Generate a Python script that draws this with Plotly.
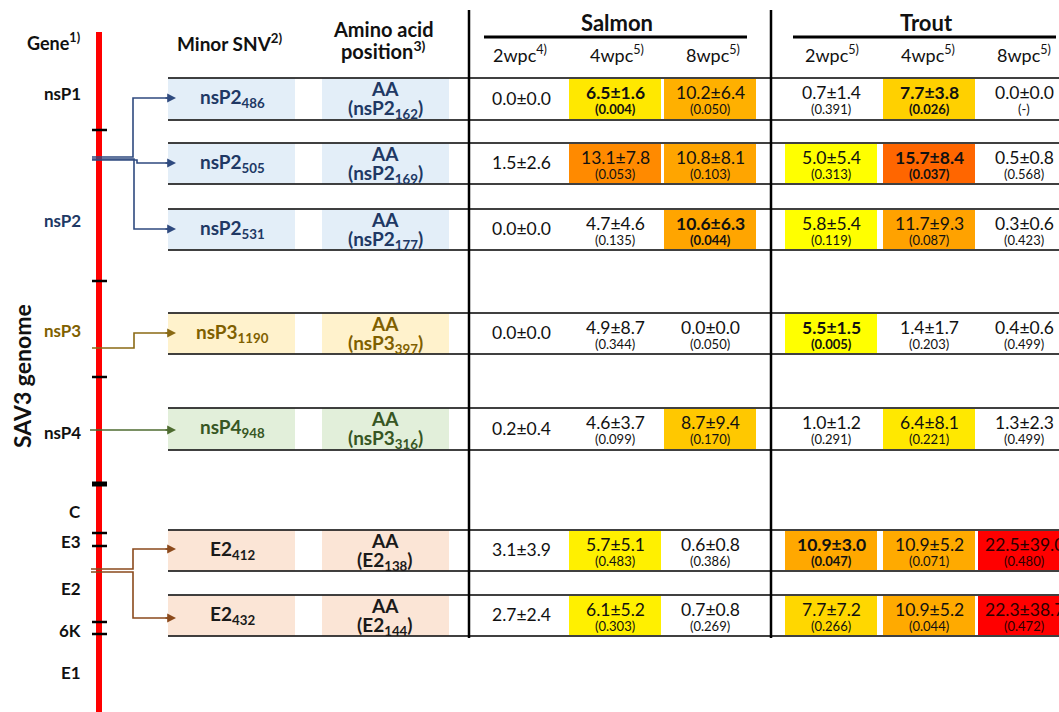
import plotly.graph_objects as go

# ---------------- data ----------------
genes = ["nsP1", "nsP2", "nsP3", "nsP4", "C", "E3", "E2", "6K", "E1"]
snv_gene = ["nsP2", "nsP2", "nsP2", "nsP3", "nsP4", "E2", "E2"]
snv_pos = ["486", "505", "531", "1190", "948", "412", "432"]
aa_gene = ["nsP2", "nsP2", "nsP2", "nsP3", "nsP3", "E2", "E2"]
aa_pos = ["162", "169", "177", "397", "316", "138", "144"]
species = ["Salmon", "Trout"]
timepoints = ["2wpc", "4wpc", "8wpc", "2wpc", "4wpc", "8wpc"]
tp_notes = ["4)", "5)", "5)", "5)", "5)", "5)"]

salmon_2wpc_mean = [0.0, 1.5, 0.0, 0.0, 0.2, 3.1, 2.7]
salmon_2wpc_sd = [0.0, 2.6, 0.0, 0.0, 0.4, 3.9, 2.4]

salmon_4wpc_mean = [6.5, 13.1, 4.7, 4.9, 4.6, 5.7, 6.1]
salmon_4wpc_sd = [1.6, 7.8, 4.6, 8.7, 3.7, 5.1, 5.2]
salmon_4wpc_p = ["0.004", "0.053", "0.135", "0.344", "0.099", "0.483", "0.303"]
salmon_4wpc_bold = [True, False, False, False, False, False, False]

salmon_8wpc_mean = [10.2, 10.8, 10.6, 0.0, 8.7, 0.6, 0.7]
salmon_8wpc_sd = [6.4, 8.1, 6.3, 0.0, 9.4, 0.8, 0.8]
salmon_8wpc_p = ["0.050", "0.103", "0.044", "0.050", "0.170", "0.386", "0.269"]
salmon_8wpc_bold = [False, False, True, False, False, False, False]

trout_2wpc_mean = [0.7, 5.0, 5.8, 5.5, 1.0, 10.9, 7.7]
trout_2wpc_sd = [1.4, 5.4, 5.4, 1.5, 1.2, 3.0, 7.2]
trout_2wpc_p = ["0.391", "0.313", "0.119", "0.005", "0.291", "0.047", "0.266"]
trout_2wpc_bold = [False, False, False, True, False, True, False]

trout_4wpc_mean = [7.7, 15.7, 11.7, 1.4, 6.4, 10.9, 10.9]
trout_4wpc_sd = [3.8, 8.4, 9.3, 1.7, 8.1, 5.2, 5.2]
trout_4wpc_p = ["0.026", "0.037", "0.087", "0.203", "0.221", "0.071", "0.044"]
trout_4wpc_bold = [True, True, False, False, False, False, False]

trout_8wpc_mean = [0.0, 0.5, 0.3, 0.4, 1.3, 22.5, 22.3]
trout_8wpc_sd = [0.0, 0.8, 0.6, 0.6, 2.3, 39.0, 38.7]
trout_8wpc_p = ["-", "0.568", "0.423", "0.499", "0.499", "0.480", "0.472"]
trout_8wpc_bold = [False, False, False, False, False, False, False]

# ---------------- styles / layout ----------------
FONT = "Lato"
W, H = 1059, 712
gene_colors = ["#111111", "#203864", "#7F6000", "#111111", "#111111",
               "#111111", "#111111", "#111111", "#111111"]
gene_y = [93, 220, 330, 432, 511, 541, 588, 630, 672]
gene_ticks = [(130, 2.5), (281, 2.5), (377, 2.5), (484, 5), (533, 2.5),
              (546, 2.5), (622, 2.5), (634, 2.5)]
gene_text_color = {"nsP2": "#203864", "nsP3": "#7F6000", "nsP4": "#375623", "E2": "#1a1a1a"}
gene_box_color = {"nsP2": "#E3EEF8", "nsP3": "#FFF2CC", "nsP4": "#E2EFDA", "E2": "#FBE5D6"}

row_top = [78, 143, 209, 313, 408, 530, 595]
row_bot = [120, 184, 250, 354, 450, 571, 636]
col_center = [521, 615, 710, 831, 929, 1024]
col_box = [None, (569, 661), (664, 756), (785, 877), (883, 975), (978, 1059)]

fills = [
    [None] * 7,
    ["#FFE800", "#FF8A00", None, None, None, "#FFF000", "#FFF000"],
    ["#FFB000", "#FFA500", "#FFA500", None, "#FFC800", None, None],
    [None, "#FFFF00", "#FFFF00", "#FFFF00", None, "#FFA800", "#FFD700"],
    ["#FFD000", "#FF6600", "#FFA200", None, "#FFE800", "#FFAA00", "#FFAA00"],
    [None, None, None, None, None, "#FF0000", "#FF0000"],
]

means = [salmon_2wpc_mean, salmon_4wpc_mean, salmon_8wpc_mean,
         trout_2wpc_mean, trout_4wpc_mean, trout_8wpc_mean]
sds = [salmon_2wpc_sd, salmon_4wpc_sd, salmon_8wpc_sd,
       trout_2wpc_sd, trout_4wpc_sd, trout_8wpc_sd]
pvals = [None, salmon_4wpc_p, salmon_8wpc_p, trout_2wpc_p, trout_4wpc_p, trout_8wpc_p]
bolds = [[False] * 7, salmon_4wpc_bold, salmon_8wpc_bold,
         trout_2wpc_bold, trout_4wpc_bold, trout_8wpc_bold]

fig = go.Figure()
fig.add_trace(go.Scatter(x=[0, W], y=[0, H], mode="markers",
                         marker=dict(opacity=0), hoverinfo="skip", showlegend=False))

shapes = []
ann = []


def line(x0, y0, x1, y1, color="black", width=1.3):
    shapes.append(dict(type="line", xref="x", yref="y", x0=x0, y0=y0, x1=x1, y1=y1,
                       line=dict(color=color, width=width)))


def rect(x0, y0, x1, y1, color):
    shapes.append(dict(type="rect", xref="x", yref="y", x0=x0, y0=y0, x1=x1, y1=y1,
                       fillcolor=color, line=dict(width=0), layer="below"))


def path(pts, color, width=1.6):
    d = "M " + " L ".join(f"{a},{b}" for a, b in pts)
    shapes.append(dict(type="path", xref="x", yref="y", path=d,
                       line=dict(color=color, width=width)))


def text(x, y, s, size, color="#111111", xanchor="center", angle=0):
    ann.append(dict(x=x, y=y, xref="x", yref="y", text=s, showarrow=False,
                    xanchor=xanchor, yanchor="middle", textangle=angle,
                    font=dict(family=FONT, size=size, color=color)))


def arrow(x, y, color):
    ann.append(dict(x=x, y=y, ax=x - 12, ay=y, xref="x", yref="y", axref="x", ayref="y",
                    text="", showarrow=True, arrowhead=2, arrowsize=1.1, arrowwidth=1.6,
                    arrowcolor=color, standoff=0, startstandoff=0,
                    font=dict(family=FONT, size=10)))


# genome bar
line(99, 32, 99, H, color="#FF0000", width=6)
for ty, tw in gene_ticks:
    line(92, ty, 107, ty, color="black", width=tw)
for g, gy, gc in zip(genes, gene_y, gene_colors):
    text(83, gy, f"<b>{g}</b>", 17, gc, xanchor="right")
text(22, 376, "<b>SAV3 genome</b>", 23, "#111111", angle=-90)

# headers
text(53, 42, "<b>Gene<sup>1)</sup></b>", 18)
text(230, 42, "<b>Minor SNV<sup>2)</sup></b>", 19)
text(383, 29, "<b>Amino acid</b>", 20)
text(383, 50, "<b>position<sup>3)</sup></b>", 20)
text(617, 22, "<b>Salmon</b>", 22)
text(926, 22, "<b>Trout</b>", 22)
line(484, 37, 747, 37, width=3)
line(793, 37, 1056, 37, width=3)
sub_x = [520, 617, 713, 832, 928, 1024]
for tp, note, sx in zip(timepoints, tp_notes, sub_x):
    text(sx, 54, f"{tp}<sup>{note}</sup>", 18)

# vertical separators
line(469, 10, 469, 638, width=2.5)
line(771, 10, 771, 638, width=2.5)

# rows
for i in range(len(snv_gene)):
    t, b = row_top[i], row_bot[i]
    c = (t + b) / 2
    gcol = gene_text_color[snv_gene[i]]
    bcol = gene_box_color[snv_gene[i]]
    rect(168, t + 0.5, 295, b - 0.5, bcol)
    rect(322, t + 0.5, 449, b - 0.5, bcol)
    line(168, t, W, t)
    line(168, b, W, b)
    text(232, c - 1, f"<b>{snv_gene[i]}<sub>{snv_pos[i]}</sub></b>", 19, gcol)
    text(385, t + 10, "<b>AA</b>", 19, gcol)
    text(385, t + 31, f"<b>({aa_gene[i]}<sub>{aa_pos[i]}</sub>)</b>", 19, gcol)
    for j in range(6):
        fc = fills[j][i]
        if fc is not None and col_box[j] is not None:
            x0, x1 = col_box[j]
            rect(x0, t + 1, x1, b - 1, fc)
        tc = "#2a0000" if fc == "#FF0000" else "#111111"
        val = f"{means[j][i]:.1f}±{sds[j][i]:.1f}"
        if bolds[j][i]:
            val = f"<b>{val}</b>"
        if pvals[j] is None:
            text(col_center[j], c - 1, val, 17.5, tc)
        else:
            pv = f"({pvals[j][i]})"
            if bolds[j][i]:
                pv = f"<b>{pv}</b>"
            text(col_center[j], t + 14, val, 17.5, tc)
            text(col_center[j], t + 31, pv, 13, tc)

# arrows
navy = "#2F4A7F"
path([(92, 157), (133, 157), (133, 98), (170, 98)], navy)
path([(92, 160), (137, 160), (137, 163), (170, 163)], navy)
path([(92, 159), (134, 159), (134, 229), (170, 229)], navy)
arrow(176, 98, navy)
arrow(176, 163, navy)
arrow(176, 229, navy)
olive = "#8A6A14"
path([(92, 348), (134, 348), (134, 333), (170, 333)], olive)
arrow(176, 333, olive)
green = "#4E6B30"
path([(90, 430), (170, 430)], green)
arrow(176, 430, green)
brown = "#8B4A1C"
path([(91, 569), (133, 569), (133, 549), (170, 549)], brown)
path([(91, 572), (133, 572), (133, 618), (170, 618)], brown)
arrow(176, 549, brown)
arrow(176, 618, brown)

fig.update_layout(
    width=W, height=H,
    margin=dict(l=0, r=0, t=0, b=0),
    paper_bgcolor="white", plot_bgcolor="white",
    font=dict(family=FONT, size=14, color="#111111"),
    xaxis=dict(range=[0, W], visible=False, fixedrange=True),
    yaxis=dict(range=[H, 0], visible=False, fixedrange=True),
    shapes=shapes, annotations=ann, showlegend=False,
    hovermode=False,
)
fig.write_html(
    "out.html",
    config={"displayModeBar": False, "staticPlot": True},
    post_script="document.body.style.margin='0px';"
                "document.documentElement.style.overflow='hidden';"
                "document.body.style.overflow='hidden';",
)
